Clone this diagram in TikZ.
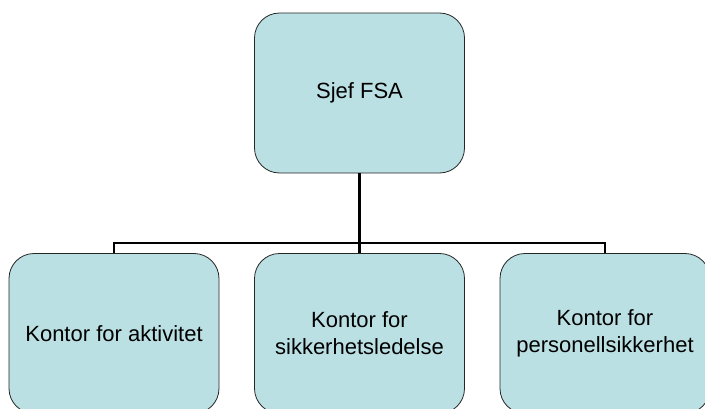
\documentclass[tikz,border=0pt]{standalone}
\usepackage{fontspec}
\setmainfont{Liberation Sans}
\definecolor{boxfill}{RGB}{187,224,227}

\begin{document}
\begin{tikzpicture}[x=1pt,y=1pt,
  box/.style={draw=black!85, fill=boxfill, rounded corners=25pt, line width=0.8pt,
    minimum width=210pt, minimum height=160pt, align=center,
    font=\fontsize{22}{27}\selectfont},
  conn/.style={line width=2.6pt}]
\useasboundingbox (0,0) rectangle (705,408);
\begin{scope}
\clip (0,0) rectangle (705,408);

\coordinate (bus) at (0,165);

\node[box] (sjef) at (359.5,315) {Sjef FSA};
\node[box] (akt) at (114,74.5) {Kontor for aktivitet};
\node[box] (led) at (359.5,74.5) {Kontor for\\sikkerhetsledelse};
\node[box] (pers) at (605,74.5) {Kontor for\\personellsikkerhet};

\draw[conn] (sjef.south) -- (sjef.south |- bus);
\draw[conn] (akt.north) -- (akt.north |- bus) -- (pers.north |- bus) -- (pers.north);
\draw[conn] (led.north) -- (led.north |- bus);
\end{scope}
\end{tikzpicture}
\end{document}
